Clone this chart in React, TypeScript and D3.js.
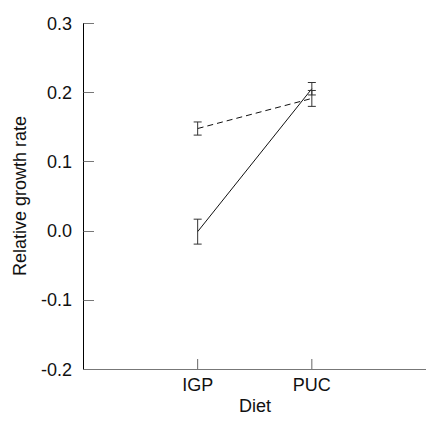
import * as d3 from "d3";

const diets = ["IGP", "PUC"];
const solidMeans = [-0.0015, 0.205];
const solidErr = [0.018, 0.009];
const dashedMeans = [0.1475, 0.191];
const dashedErr = [0.0095, 0.0115];
const yTicks = [-0.2, -0.1, 0.0, 0.1, 0.2, 0.3];

const width = 427;
const height = 421;
const fmt = (t: number) => d3.format(".1f")(t).replace("−", "-");

export default function App() {
  const x = d3.scalePoint<string>().domain(diets).range([83.5, 426]).padding(1);
  const y = d3.scaleLinear().domain([-0.2, 0.3]).range([369, 23]);
  const line = d3
    .line<number>()
    .x((_, i) => x(diets[i])!)
    .y((d) => y(d));

  const series = [
    { means: solidMeans, err: solidErr, dash: undefined as string | undefined },
    { means: dashedMeans, err: dashedErr, dash: "6,4" },
  ];

  return (
    <svg
      width={width}
      height={height}
      style={{ position: "absolute", left: 0, top: 0 }}
      fontFamily="'Liberation Sans', Arial, sans-serif"
    >
      <rect width={width} height={height} fill="#fff" />
      {/* x axis */}
      <line x1={83.5} x2={426} y1={369.5} y2={369.5} stroke="#777" strokeWidth={1.2} />
      {diets.map((d) => (
        <g key={d}>
          <line x1={x(d)!} x2={x(d)!} y1={369} y2={359} stroke="#666" />
          <text x={x(d)!} y={391} fontSize={18} textAnchor="middle" fill="#111">
            {d}
          </text>
        </g>
      ))}
      <text x={255} y={412} fontSize={18} textAnchor="middle" fill="#111">
        Diet
      </text>
      {/* y axis */}
      <line x1={83.5} x2={83.5} y1={y(0.3)} y2={369.5} stroke="#000" />
      {yTicks.map((t) => (
        <g key={t}>
          <line x1={83.5} x2={94} y1={Math.round(y(t)) + 0.5} y2={Math.round(y(t)) + 0.5} stroke="#777" />
          <text x={72} y={y(t) + 6.5} fontSize={18} textAnchor="end" fill="#111">
            {fmt(t)}
          </text>
        </g>
      ))}
      <text
        transform={`translate(26,${(23 + 369) / 2}) rotate(-90)`}
        fontSize={18}
        textAnchor="middle"
        fill="#111"
      >
        Relative growth rate
      </text>
      {/* data */}
      {series.map((s, si) => (
        <g key={si}>
          <path
            d={line(s.means)!}
            fill="none"
            stroke="#111"
            strokeWidth={1}
            strokeDasharray={s.dash}
          />
          {s.means.map((m, i) => {
            const cx = x(diets[i])!;
            const top = y(m + s.err[i]);
            const bot = y(m - s.err[i]);
            return (
              <g key={i} stroke="#333" strokeWidth={1}>
                <line x1={cx} x2={cx} y1={top} y2={bot} />
                <line x1={cx - 4} x2={cx + 4} y1={top} y2={top} />
                <line x1={cx - 4} x2={cx + 4} y1={bot} y2={bot} />
              </g>
            );
          })}
        </g>
      ))}
    </svg>
  );
}
